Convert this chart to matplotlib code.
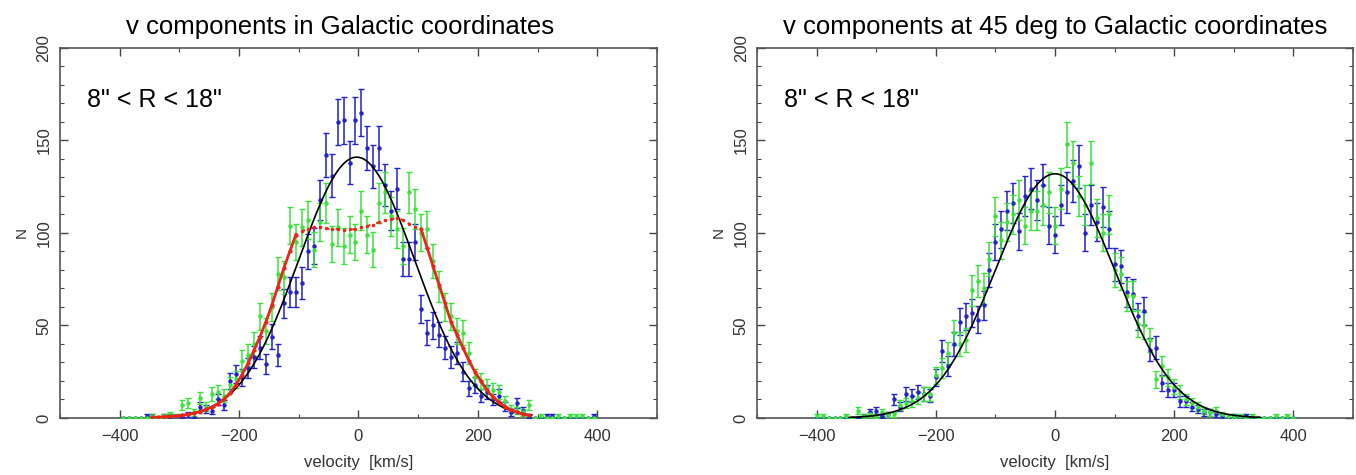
import numpy as np
import matplotlib
matplotlib.use("Agg")
import matplotlib.pyplot as plt
from matplotlib.ticker import MultipleLocator

plt.rcParams['font.family'] = ['Liberation Sans', 'DejaVu Sans']

# ---------------- data: left panel (Galactic coordinates) ----------------
v_left = np.arange(-395, 400, 10)
left_blue = [0, 0, 0, 0, 1, 1, 0, 1, 1, 0,
             1, 2, 0, 6, 5, 4, 10, 7, 20, 24,
             22, 27, 33, 38, 29, 44, 34, 62, 68, 68,
             73, 90, 93, 118, 142, 131, 160, 161, 138, 161,
             165, 146, 136, 146, 126, 112, 124, 86, 86, 95,
             59, 46, 50, 45, 38, 33, 35, 25, 16, 18,
             12, 14, 10, 12, 6, 3, 8, 4, 1, 0,
             0, 1, 1, 0, 0, 0, 0, 0, 0, 1]
left_green = [0, 0, 0, 0, 0, 1, 0, 1, 2, 1,
              7, 8, 3, 11, 6, 13, 14, 12, 18, 21,
              31, 34, 40, 55, 47, 60, 78, 76, 104, 95,
              103, 107, 91, 106, 116, 94, 103, 93, 99, 95,
              112, 99, 91, 116, 122, 109, 102, 93, 122, 113,
              100, 102, 85, 71, 60, 55, 47, 46, 35, 22,
              20, 17, 15, 14, 9, 5, 4, 3, 7, 0,
              1, 0, 0, 1, 0, 1, 1, 1, 0, 0]

# red model curve
v_red = np.arange(-345, 290, 10)
red_model = [0.3, 0.5, 0.7, 0.9, 1.2, 1.5, 1.9, 2.6, 3.5, 4.6,
             6.0, 7.8, 10.3, 13.5, 18.0, 23.5, 29.5, 36.5, 44, 52,
             61, 71, 81, 90, 99,
             101, 102, 103, 103, 102.5, 102, 102, 101.5, 102, 102,
             103, 104, 104.5, 106, 107, 107.5, 108, 107, 105, 103,
             102, 92, 82, 72, 62, 52, 45, 38, 31, 25,
             20, 15, 11.5, 8.5, 6.2, 4.5, 3.2, 2.2, 1.5]
red_core = 105  # |v| below which the model is drawn dotted

left_fit = {"amp": 141, "mean": -3, "sigma": 97, "vmin": -340, "vmax": 290}

# ---------------- data: right panel (45 deg rotated) ----------------
v_right = np.arange(-400, 410, 10)
right_blue = [0, 0, 0, 0, 0, 0, 0, 0, 1, 3,
              4, 1, 2, 10, 6, 13, 12, 14, 13, 12,
              22, 36, 28, 40, 52, 55, 57, 53, 61, 80,
              95, 102, 112, 116, 101, 120, 124, 118, 126, 104,
              99, 115, 122, 128, 136, 100, 115, 106, 114, 102,
              83, 82, 68, 67, 55, 58, 37, 38, 19, 15,
              15, 9, 9, 6, 5, 3, 3, 2, 1, 0,
              1, 0, 1, 0, 0, 0, 0, 0, 0, 0, 0]
right_green = [1, 1, 0, 0, 0, 1, 0, 4, 1, 2,
               1, 3, 2, 2, 7, 8, 9, 11, 13, 13,
               23, 27, 35, 46, 40, 42, 69, 74, 70, 86,
               109, 96, 106, 110, 118, 104, 112, 112, 115, 122,
               104, 124, 148, 138, 120, 115, 138, 108, 100, 110,
               80, 78, 66, 66, 51, 50, 42, 21, 28, 22,
               17, 14, 10, 8, 6, 4, 3, 4, 2, 1,
               1, 1, 0, 1, 0, 0, 0, 1, 0, 1, 0]

right_fit = {"amp": 132, "mean": 0, "sigma": 100, "vmin": -345, "vmax": 345}

titles = ["v components in Galactic coordinates",
          "v components at 45 deg to Galactic coordinates"]
region_label = "8\" < R < 18\""
xlabel = "velocity  [km/s]"
ylabel = "N"

BLUE = "#2222c8"
GREEN = "#3ce23c"
RED = "#e8261a"


def gauss(x, p):
    return p["amp"] * np.exp(-0.5 * ((x - p["mean"]) / p["sigma"]) ** 2)


def draw_points(ax, v, n, color):
    n = np.asarray(n, float)
    ax.errorbar(v, n, yerr=np.sqrt(n), fmt='o', ms=2.2, color=color,
                ecolor=color, elinewidth=1.1, capsize=2, capthick=1.0,
                zorder=3)


def style_axes(ax, title, title_x):
    ax.set_xlim(-500, 500)
    ax.set_ylim(0, 200)
    ax.xaxis.set_major_locator(MultipleLocator(200))
    ax.xaxis.set_minor_locator(MultipleLocator(100))
    ax.yaxis.set_major_locator(MultipleLocator(50))
    ax.yaxis.set_minor_locator(MultipleLocator(10))
    ax.tick_params(which='both', direction='in', top=True, right=True,
                   color='#444444')
    ax.tick_params(which='major', length=6, width=1)
    ax.tick_params(which='minor', length=3, width=0.8)
    ax.tick_params(axis='x', labelsize=12, pad=8, labelcolor='#333333')
    ax.tick_params(axis='y', labelsize=12, pad=6, labelcolor='#333333',
                   labelrotation=90)
    for lab in ax.get_yticklabels():
        lab.set_verticalalignment('center')
    for s in ax.spines.values():
        s.set_color('#555555')
        s.set_linewidth(1.2)
    ax.set_title(title, fontsize=18.5, x=title_x, pad=10)
    ax.set_xlabel(xlabel, fontsize=12, labelpad=8, color='#333333')
    ax.set_ylabel(ylabel, fontsize=11, labelpad=6, color='#333333')
    ax.text(-455, 172, region_label, fontsize=18, va='center', ha='left')


fig = plt.figure(figsize=(13.56, 4.75), dpi=100)
axL = fig.add_axes([0.0442, 0.12, 0.4403, 0.779])
axR = fig.add_axes([0.5583, 0.12, 0.4395, 0.779])

# left panel
draw_points(axL, v_left, left_blue, BLUE)
draw_points(axL, v_left, left_green, GREEN)
xx = np.linspace(left_fit["vmin"], left_fit["vmax"], 400)
axL.plot(xx, gauss(xx, left_fit), color='black', lw=1.2, zorder=5)
v_red = np.asarray(v_red)
red_model = np.asarray(red_model)
lo = v_red <= -red_core
mid = np.abs(v_red) <= red_core
hi = v_red >= red_core
axL.plot(v_red[lo], red_model[lo], color=RED, lw=2, marker='o', ms=2, zorder=6)
axL.plot(v_red[hi], red_model[hi], color=RED, lw=2, marker='o', ms=2, zorder=6)
axL.plot(v_red[mid], red_model[mid], color=RED, lw=1.5, ls=(0, (1, 3)),
         marker='o', ms=1.5, zorder=6)
style_axes(axL, titles[0], 0.47)

# right panel
draw_points(axR, v_right, right_blue, BLUE)
draw_points(axR, v_right, right_green, GREEN)
xx = np.linspace(right_fit["vmin"], right_fit["vmax"], 400)
axR.plot(xx, gauss(xx, right_fit), color='black', lw=1.2, zorder=5)
style_axes(axR, titles[1], 0.5)

fig.savefig("out.png", dpi=100)
